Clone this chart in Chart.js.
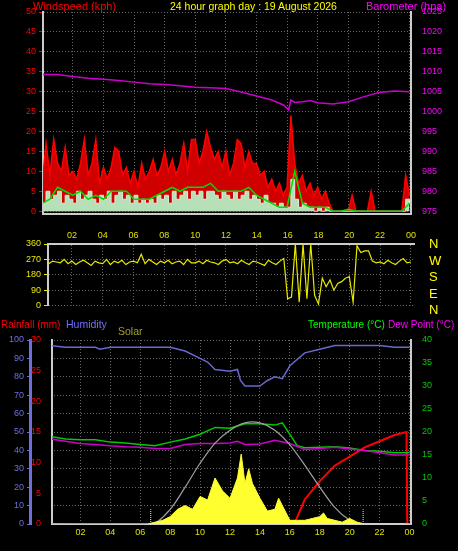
<!DOCTYPE html>
<html><head><meta charset="utf-8">
<script src="https://cdn.jsdelivr.net/npm/chart.js@4/dist/chart.umd.min.js"></script>
<style>
html,body{margin:0;padding:0;background:#000;width:458px;height:551px;overflow:hidden;font-family:"Liberation Sans",sans-serif}
canvas{position:absolute;left:0}
.t{position:absolute;font-size:11px;white-space:nowrap;line-height:13px}
.d{position:absolute;left:429px;color:#ffff00;font-size:13px;line-height:14px}
</style></head><body>
<canvas id="c1" width="458" height="222" style="top:0"></canvas>
<canvas id="c2" width="458" height="88" style="top:226px"></canvas>
<canvas id="c3" width="458" height="225" style="top:326px"></canvas>
<div class="t" style="left:33px;top:0;color:#ff0000">Windspeed (kph)</div>
<div class="t" style="left:170px;top:0;color:#ffff00;font-size:10.5px">24 hour graph day : 19 August 2026</div>
<div class="t" style="left:366px;top:0;color:#ff00ff">Barometer (hpa)</div>
<div class="d" style="top:237px">N</div><div class="d" style="top:254px">W</div><div class="d" style="top:270px">S</div><div class="d" style="top:287px">E</div><div class="d" style="top:303px">N</div>
<div class="t" style="left:1px;top:318px;color:#ff0000;font-size:10px">Rainfall (mm)</div>
<div class="t" style="left:66px;top:318px;color:#7070ff;font-size:10.5px">Humidity</div>
<div class="t" style="left:118px;top:325px;color:#a0a030;font-size:10.5px">Solar</div>
<div class="t" style="left:308px;top:318px;color:#00ff00;font-size:10px">Temperature (°C)</div>
<div class="t" style="left:388px;top:318px;color:#ff00ff;font-size:10px">Dew Point (°C)</div>
<script>
// ---- data ----
const hourTicks=[2,4,6,8,10,12,14,16,18,20,22,24];
const windGust=[7,17,9,18,12,10,16,9,10,8,12,18,9,12,18,7,11,8,11,16,15,9,11,7,10,6,12,8,10,13,9,11,15,10,13,9,12,17,10,18,18,12,15,20,16,13,15,11,15,9,12,18,17,11,15,12,12,9,10,6,8,5,7,4,6,24,12,7,9,5,7,4,6,3,5,2,0,0,0,0,0,4,0,0,0,0,5,0,0,0,0,0,0,0,0,9,4];
const windSpeed=[2,5,3,4,5,2,4,3,2,5,3,4,5,3,2,4,3,5,2,4,5,3,4,2,4,2,3,2,3,2,4,3,4,2,5,3,4,5,3,5,4,5,3,5,5,4,3,5,4,3,5,3,4,5,3,4,3,2,4,2,2,1,2,1,1,8,3,1,2,1,1,0,1,0,1,0,0,0,0,0,0,0,0,0,0,0,0,0,0,0,0,0,0,0,0,3,2];
const windAvg=[2,3,6,5,4,5,3,4,3,5,5,5,3,3,3,4,5,6,5,6,6,6,7,5,5,5,5,6,4,3,2,1,1,10,2,1,1,1,0,0,0.5,0,0,0,0,0,0,0,2];
const baroHours=[0,1,2,3,4,5,6,7,8,9,10,11,12,13,14,15,15.8,16.1,16.25,16.5,17,17.5,18,19,20,21,22,23,24];
const baroValues=[1009.3,1009.3,1008.8,1008.4,1008.1,1007.8,1007.4,1007.0,1006.8,1006.5,1006.1,1006.0,1005.8,1004.9,1003.9,1002.9,1001.6,1000.4,1002.9,1002.3,1002.5,1002.8,1002.2,1001.9,1002.5,1003.7,1004.8,1005.2,1005.0];
const windDir=[250,265,245,260,255,250,270,245,260,240,255,265,250,235,260,250,245,270,240,260,250,265,240,255,260,250,300,245,270,255,240,260,250,265,245,255,260,240,270,250,250,260,245,265,255,250,240,260,270,250,255,245,265,250,240,260,255,245,235,265,250,240,260,275,40,50,360,20,360,40,360,60,10,160,110,150,90,130,140,160,170,20,350,310,320,320,260,250,255,245,265,250,240,260,275,250,255];
const humHours=[0,1,2,3,3.3,4,5,6,7,8,9,10,10.5,11,12,12.5,12.7,13,14,14.5,15,15.5,16,17,18,19,20,21,22,23,24];
const humValues=[97,96,96,96,95,96,96,96,96,96,94,90,88,84,83,84,78,75,75,78,80,79,86,93,95,97,97,97,97,96,96];
const tempHours=[0,1,2,3,4,5,6,7,8,9,10,11,12,13,14,15,15.5,16,16.5,17,18,19,20,21,22,23,24];
const tempValues=[19,18.5,18.3,18.3,17.8,17.6,17.3,17,17.8,18.5,19.5,21,20.8,21.8,21.8,21.5,22,19.5,17,16.6,16.7,16.8,16.5,16,15.8,15.5,15.5];
const dewHours=[0,1,2,3,4,5,6,7,8,9,10,11,12,12.5,13,14,15,16,17,18,19,20,21,22,23,24];
const dewValues=[18.5,18,17.5,17.3,17,16.8,16.7,16.4,16.4,17.3,17.5,17.5,17.6,18,17.3,17.4,18.2,17.5,16.2,16.4,16.7,16.3,16,15.5,15,15];
const rainHours=[0,16.3,17,18,19,20,21,22,23,23.8,23.85,24];
const rainValues=[0,0,4,7,9.5,11,12.5,13.5,14.5,15,0,0];
const clearHours=[0,6.8,8,9,10,11,12,13,14,15,16,17,18,19,20,20.8,24];
const clearValues=[0,0,8,20,33,44,51,55,55,51,43,32,20,9,2,0,0];
const solarHours=[0,6.5,7,7.5,8,8.5,9,9.5,10,10.5,11,11.5,12,12.5,12.75,13,13.25,13.5,14,14.5,15,15.25,15.5,16,16.5,17,17.5,18,18.25,18.5,19,19.5,20,20.5,21,24];
const solarValues=[0,0,1,2,4,8,10,8,15,13,25,18,14,25,38,22,30,22,14,7,8,14,10,2,2,2,3,4,6,3,2,1,3,1,0,0];

// ---- helpers ----
const step=(arr,s)=>arr.map((v,i)=>({x:i*s,y:v}));
const pairs=(h,v)=>h.map((x,i)=>({x,y:v[i]}));
const F={family:"Liberation Sans",size:9};
const dash=[1,2];
function xAxis(min,max,pos,h,show){
 return {type:'linear',min,max,position:pos,
  afterBuildTicks:s=>{s.ticks=hourTicks.map(v=>({value:v}));},
  ticks:{display:show,color:'#e0e000',font:F,callback:v=>String(v%24).padStart(2,'0'),padding:3,maxRotation:0,autoSkip:false},
  grid:{color:'#666',tickLength:0},border:{color:'#ccc',width:2,dash:dash},afterFit:s=>{s.height=h;}};
}
Chart.defaults.animation=false;
function yAxis(min,max,stepSize,color,pos,w,extra){
 return Object.assign({type:'linear',min,max,position:pos,
  ticks:{stepSize,color,font:F,padding:3,callback:v=>String(v)},
  grid:{color:'#666',tickLength:4,tickColor:color},border:{color:'#ccc',width:2,dash:dash},
  afterFit:s=>{s.width=w;}},extra||{});
}
const common={responsive:false,maintainAspectRatio:false,plugins:{legend:{display:false},tooltip:{enabled:false}},elements:{point:{radius:0}}};

new Chart(document.getElementById('c1'),{type:'line',
 data:{datasets:[
  {data:pairs(baroHours,baroValues),yAxisID:'yB',borderColor:'#cc00cc',borderWidth:1.5,tension:0},
  {data:step(windGust,0.25),yAxisID:'y',borderColor:'#ff0000',backgroundColor:'#d00000',fill:'origin',borderWidth:1.5,tension:0},
  {data:step(windSpeed,0.25),yAxisID:'y',borderColor:'#d8f0d8',backgroundColor:'#b8e0b8',fill:'origin',borderWidth:1,stepped:true},
  {data:step(windAvg,0.5),yAxisID:'y',borderColor:'#00dd00',borderWidth:1.5,tension:0}
 ].reverse()},
 options:{...common,layout:{padding:{top:12}},scales:{
  x:xAxis(0.05,24.1,'bottom',3,false),
  y:yAxis(-0.6,50,5,'#ff0000','left',43,{afterBuildTicks:s=>{s.ticks=[0,5,10,15,20,25,30,35,40,45,50].map(v=>({value:v}));}}),
  yB:yAxis(974.4,1025,5,'#ff00ff','right',47,{grid:{display:false},afterBuildTicks:s=>{s.ticks=[975,980,985,990,995,1000,1005,1010,1015,1020,1025].map(v=>({value:v}));}})
 }}});

new Chart(document.getElementById('c2'),{type:'line',
 data:{datasets:[{data:step(windDir,0.25),borderColor:'#e8e800',borderWidth:1.2,tension:0}]},
 options:{...common,layout:{padding:{bottom:5}},scales:{
  x:xAxis(0.45,24.2,'top',18,true),
  y:yAxis(0,360,90,'#e8e800','left',48),
  yR:{position:'right',display:true,min:0,max:360,ticks:{display:false},grid:{display:false},border:{color:'#ccc',width:0},afterFit:s=>{s.width=44;}}
 }}});

new Chart(document.getElementById('c3'),{type:'line',
 data:{datasets:[
  {data:pairs(rainHours,rainValues),yAxisID:'yR',borderColor:'#ff0000',borderWidth:2,tension:0},
  {data:pairs(humHours,humValues),yAxisID:'yH',borderColor:'#6868d0',borderWidth:1.5,tension:0},
  {data:pairs(tempHours,tempValues),yAxisID:'yT',borderColor:'#00cc00',borderWidth:1.5,tension:0},
  {data:pairs(dewHours,dewValues),yAxisID:'yT',borderColor:'#cc00cc',borderWidth:1.5,tension:0},
  {data:pairs(clearHours,clearValues),yAxisID:'yH',borderColor:'#a0a0a0',borderWidth:1.2,tension:0.3},
  {data:pairs(solarHours,solarValues),yAxisID:'yH',borderColor:'#ffff30',backgroundColor:'#ffff30',fill:'origin',borderWidth:1,tension:0},
  {data:[{x:6.7,y:0},{x:6.7,y:8}],yAxisID:'yH',borderColor:'#ffff30',borderWidth:1,borderDash:[1,1]},
  {data:[{x:20.9,y:0},{x:20.9,y:8}],yAxisID:'yH',borderColor:'#ffff30',borderWidth:1,borderDash:[1,1]}
 ].reverse()},
 options:{...common,layout:{padding:{top:14}},scales:{
  x:xAxis(0.1,24.1,'bottom',27,true),
  yH:yAxis(0,100,10,'#6f6fe0','left',30,{weight:2,grid:{display:true,color:'#666',tickLength:3,tickColor:'#6f6fe0'},border:{color:'#6f6fe0',width:3,dash:dash}}),
  yR:yAxis(0,30,5,'#ff0000','left',22,{weight:1,grid:{display:false}}),
  yT:yAxis(0,40,5,'#00cc00','right',47,{grid:{display:false}})
 }}});
</script></body></html>
